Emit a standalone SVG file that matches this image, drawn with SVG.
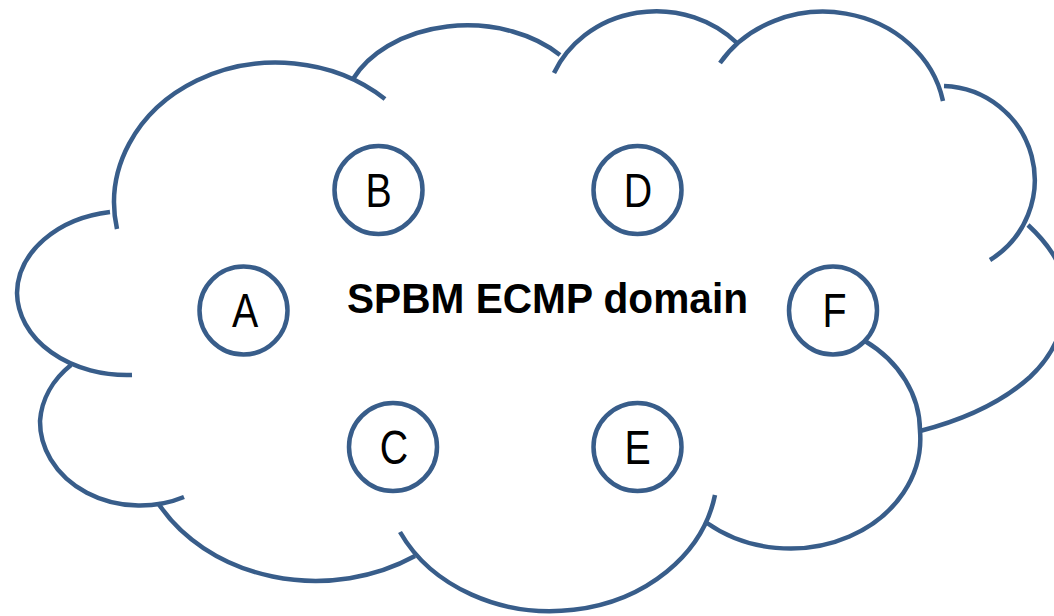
<svg xmlns="http://www.w3.org/2000/svg" width="1054" height="616" viewBox="0 0 1054 616">
<style>
.c{fill:none;stroke:#385D8A;stroke-width:4.5}
.n{fill:#fff;stroke:#385D8A;stroke-width:4.5}
.l{font-family:"Liberation Sans",Arial,sans-serif;font-size:48px;fill:#000;text-anchor:middle}
.t{font-family:"Liberation Sans",Arial,sans-serif;font-size:43px;font-weight:bold;fill:#000}
</style>
<rect width="1054" height="616" fill="#fff"/>
<g id="cloud">
<path class="c" d="M117,229 A162,140 0 0 1 385,99"/>
<path class="c" d="M353,79 A125,90 0 0 1 560,55"/>
<path class="c" d="M554,73 A112,104 0 0 1 737,43"/>
<path class="c" d="M720,63 A122,110 0 0 1 943,101"/>
<path class="c" d="M944,86 A94,94 0 0 1 990,260"/>
<path class="c" d="M1028,225 Q1068,262 1066,300 Q1064,345 1030,377 Q990,413 920,431"/>
<path class="c" d="M865,341 A130,110 0 0 1 920,431 A130,110 0 0 1 707,523"/>
<path class="c" d="M715,495 A167,140 0 0 1 400,532"/>
<path class="c" d="M415,556 A180,150 0 0 1 158,503"/>
<path class="c" d="M71,365 A100,84 0 0 0 40,421 A100,84 0 0 0 184,497"/>
<path class="c" d="M110,212 A110,83 0 0 0 17,293 A110,83 0 0 0 132,375"/>
</g>
<text class="t" x="347" y="313" textLength="401" lengthAdjust="spacingAndGlyphs">SPBM ECMP domain</text>
<g id="node-A"><circle class="n" cx="243.5" cy="310.5" r="44"/><text class="l" transform="translate(245,327) scale(0.82,1)">A</text></g>
<g id="node-B"><circle class="n" cx="378.5" cy="190" r="44"/><text class="l" transform="translate(378.5,206.5) scale(0.82,1)">B</text></g>
<g id="node-C"><circle class="n" cx="393" cy="447" r="44"/><text class="l" transform="translate(394,463.5) scale(0.82,1)">C</text></g>
<g id="node-D"><circle class="n" cx="637.5" cy="190" r="44"/><text class="l" transform="translate(638,206.5) scale(0.82,1)">D</text></g>
<g id="node-E"><circle class="n" cx="637.5" cy="447" r="44"/><text class="l" transform="translate(637.5,463.5) scale(0.82,1)">E</text></g>
<g id="node-F"><circle class="n" cx="833" cy="310.5" r="44"/><text class="l" transform="translate(834.5,327) scale(0.82,1)">F</text></g>
<g id="connectors"/>
</svg>
